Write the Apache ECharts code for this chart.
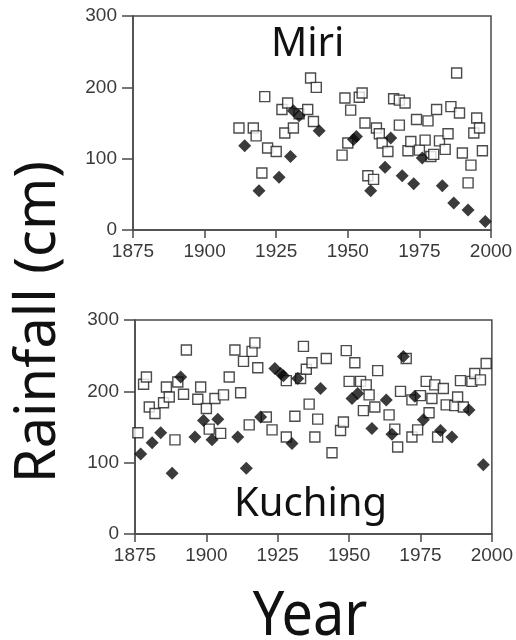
<!DOCTYPE html>
<html>
<head>
<meta charset="utf-8">
<script src="https://cdn.jsdelivr.net/npm/echarts@6/dist/echarts.min.js"></script>
<style>
  html, body { margin: 0; padding: 0; background: #fff; }
  #chart { width: 516px; height: 640px; }
</style>
</head>
<body>
<div id="chart"></div>
<script>
// Annual rainfall (cm) at two Sarawak stations.
// Open squares and filled markers are the two record types per station.
const xTicks = [1875, 1900, 1925, 1950, 1975, 2000];
const yTicks = [0, 100, 200, 300];

const miriOpen = [
  [1912,143],[1917,143],[1918,132],[1920,80],[1921,187],[1922,115],[1925,110],
  [1927,169],[1928,136],[1929,178],[1931,143],[1933,163],[1936,169],[1937,213],
  [1938,152],[1939,200],[1948,105],[1949,185],[1950,122],[1951,168],[1954,186],
  [1955,192],[1956,150],[1957,76],[1959,71],[1960,143],[1961,135],[1962,122],
  [1964,110],[1966,184],[1968,182],[1968,147],[1970,178],[1971,111],[1972,124],
  [1974,155],[1975,112],[1977,126],[1978,153],[1979,103],[1980,106],[1981,169],
  [1982,125],[1984,113],[1985,135],[1986,173],[1988,220],[1989,164],[1990,108],
  [1992,66],[1993,91],[1994,136],[1995,157],[1996,143],[1997,111]
];
const miriFilled = [
  [1914,118],[1919,55],[1926,74],[1930,103],[1931,167],[1933,160],[1940,139],
  [1952,127],[1953,131],[1958,55],[1963,88],[1965,129],[1969,76],[1973,65],
  [1976,101],[1983,62],[1987,38],[1992,28],[1998,12]
];
const kuchingOpen = [
  [1876,142],[1878,210],[1879,220],[1880,178],[1882,169],[1885,184],[1886,206],
  [1887,192],[1889,132],[1890,213],[1892,196],[1893,258],[1897,189],[1898,206],
  [1900,176],[1901,147],[1903,190],[1905,141],[1906,195],[1908,220],[1910,258],
  [1912,198],[1913,242],[1915,153],[1916,256],[1917,268],[1918,233],[1921,164],
  [1923,146],[1928,136],[1928,215],[1931,165],[1933,218],[1934,263],[1935,231],
  [1936,182],[1937,240],[1938,136],[1939,161],[1942,246],[1944,114],[1947,145],
  [1948,157],[1949,257],[1950,214],[1952,240],[1954,214],[1955,173],[1956,209],
  [1957,195],[1959,178],[1960,229],[1964,167],[1966,147],[1967,122],[1968,200],
  [1970,246],[1972,136],[1972,188],[1974,146],[1975,194],[1977,214],[1978,170],
  [1979,190],[1980,209],[1981,136],[1983,204],[1984,181],[1987,180],[1988,192],
  [1989,215],[1990,178],[1993,214],[1994,225],[1996,216],[1998,239]
];
const kuchingFilled = [
  [1877,112],[1881,128],[1884,142],[1888,85],[1891,220],[1896,136],[1899,159],
  [1902,132],[1904,161],[1911,136],[1914,92],[1919,164],[1924,232],[1926,225],
  [1927,222],[1930,127],[1932,218],[1940,204],[1951,190],[1953,197],[1958,148],
  [1963,188],[1965,140],[1969,249],[1973,193],[1976,160],[1982,145],[1986,136],
  [1992,174],[1997,97]
];

const axisColor = '#4a4a4a';
const tickFont = { fontFamily: 'Liberation Sans', fontSize: 19, color: '#3a3a3a' };

function xAxisFor(gridIndex) {
  return {
    type: 'value', gridIndex,
    min: xTicks[0], max: xTicks[xTicks.length - 1],
    interval: xTicks[1] - xTicks[0],
    axisLine: { show: true, onZero: false, lineStyle: { color: axisColor, width: 1.5 } },
    axisTick: { show: true, inside: false, length: 8, lineStyle: { color: axisColor, width: 1.5 } },
    axisLabel: Object.assign({ margin: 12, formatter: v => String(v) }, tickFont),
    splitLine: { show: false }
  };
}
function yAxisFor(gridIndex) {
  return {
    type: 'value', gridIndex,
    min: yTicks[0], max: yTicks[yTicks.length - 1],
    interval: yTicks[1] - yTicks[0],
    axisLine: { show: true, onZero: false, lineStyle: { color: axisColor, width: 1.5 } },
    axisTick: { show: true, inside: false, length: 11, lineStyle: { color: axisColor, width: 1.5 } },
    axisLabel: Object.assign({ margin: 16, formatter: v => String(v) }, tickFont),
    splitLine: { show: false }
  };
}

const openStyle = { color: '#ffffff', borderColor: '#1e1e1e', borderWidth: 1.4 };
const filledStyle = { color: '#0a0a0a' };

function openSeries(data, i) {
  return { type: 'scatter', xAxisIndex: i, yAxisIndex: i, data, symbol: 'rect',
           symbolSize: 10, itemStyle: openStyle, silent: true, z: 2 };
}
function filledSeries(data, i) {
  return { type: 'scatter', xAxisIndex: i, yAxisIndex: i, data, symbol: 'diamond',
           symbolSize: 13, itemStyle: filledStyle, silent: true, z: 3 };
}

const chart = echarts.init(document.getElementById('chart'), null, { renderer: 'canvas' });
chart.setOption({
  animation: false,
  backgroundColor: '#ffffff',
  grid: [
    { left: 133, right: 25, top: 16, height: 214, show: true, borderColor: axisColor, borderWidth: 1.5 },
    { left: 135, right: 23, top: 320, height: 214, show: true, borderColor: axisColor, borderWidth: 1.5 }
  ],
  xAxis: [xAxisFor(0), xAxisFor(1)],
  yAxis: [yAxisFor(0), yAxisFor(1)],
  series: [
    openSeries(miriOpen, 0), filledSeries(miriFilled, 0),
    openSeries(kuchingOpen, 1), filledSeries(kuchingFilled, 1)
  ],
  graphic: [
    { type: 'text', left: 271, top: 25,
      style: { text: 'Miri', fontFamily: 'Noto Sans', fontSize: 40, fill: '#111' } },
    { type: 'text', left: 234, top: 485,
      style: { text: 'Kuching', fontFamily: 'Noto Sans', fontSize: 40, fill: '#111' } },
    { type: 'text', x: 39, y: 322, rotation: Math.PI / 2,
      style: { text: 'Rainfall (cm)', fontFamily: 'Noto Sans', fontSize: 56, fill: '#111',
               align: 'center', verticalAlign: 'middle' } },
    { type: 'text', x: 310, y: 617, scaleX: 0.9,
      style: { text: 'Year', fontFamily: 'Noto Sans', fontSize: 62, fill: '#111',
               align: 'center', verticalAlign: 'middle' } }
  ]
});
</script>
</body>
</html>
